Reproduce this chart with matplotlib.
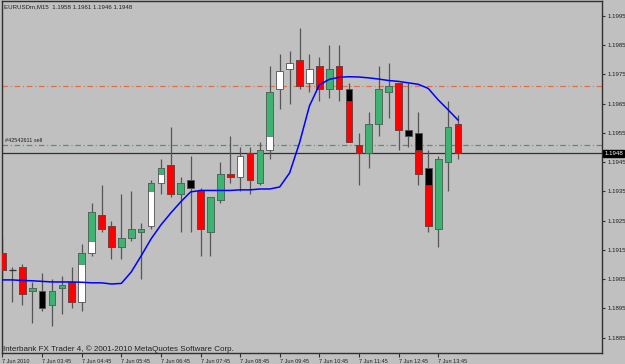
import numpy as np
import matplotlib.pyplot as plt
from matplotlib.transforms import blended_transform_factory

plt.rcParams['font.family'] = ['Liberation Sans', 'DejaVu Sans']

# EURUSDm M15 bars (4 digit quotes)
opens  = [1.1914, 1.1908, 1.1909, 1.1901, 1.1901, 1.1896, 1.1902, 1.1904, 1.1897, 1.1914,
          1.1927, 1.1923, 1.1916, 1.1919, 1.1921, 1.1923, 1.1938, 1.1944, 1.1934, 1.1939,
          1.1935, 1.1921, 1.1932, 1.1941, 1.1940, 1.1948, 1.1938, 1.1949, 1.1970, 1.1977,
          1.1980, 1.1972, 1.1978, 1.1970, 1.1978, 1.1970, 1.1951, 1.1948, 1.1958, 1.1969,
          1.1972, 1.1956, 1.1955, 1.1943, 1.1922, 1.1945, 1.1958]
highs  = [1.1919, 1.1909, 1.1910, 1.1904, 1.1907, 1.1905, 1.1906, 1.1909, 1.1917, 1.1931,
          1.1937, 1.1925, 1.1934, 1.1935, 1.1924, 1.1939, 1.1946, 1.1957, 1.1940, 1.1947,
          1.1936, 1.1933, 1.1945, 1.1954, 1.1950, 1.1950, 1.1952, 1.1978, 1.1982, 1.1983,
          1.1991, 1.1982, 1.1981, 1.1985, 1.1985, 1.1972, 1.1955, 1.1962, 1.1978, 1.1979,
          1.1972, 1.1972, 1.1962, 1.1949, 1.1947, 1.1966, 1.1961]
lows   = [1.1904, 1.1897, 1.1896, 1.1890, 1.1894, 1.1889, 1.1893, 1.1895, 1.1894, 1.1913,
          1.1921, 1.1912, 1.1912, 1.1918, 1.1905, 1.1922, 1.1934, 1.1933, 1.1921, 1.1921,
          1.1913, 1.1913, 1.1931, 1.1938, 1.1935, 1.1934, 1.1937, 1.1946, 1.1963, 1.1965,
          1.1970, 1.1969, 1.1966, 1.1967, 1.1966, 1.1952, 1.1937, 1.1943, 1.1954, 1.1960,
          1.1949, 1.1950, 1.1937, 1.1921, 1.1916, 1.1935, 1.1946]
closes = [1.1908, 1.1908, 1.1900, 1.1902, 1.1895, 1.1901, 1.1903, 1.1897, 1.1914, 1.1928,
          1.1922, 1.1916, 1.1919, 1.1922, 1.1922, 1.1938, 1.1943, 1.1934, 1.1938, 1.1936,
          1.1922, 1.1933, 1.1941, 1.1940, 1.1947, 1.1939, 1.1949, 1.1969, 1.1976, 1.1979,
          1.1971, 1.1977, 1.1970, 1.1977, 1.1970, 1.1952, 1.1948, 1.1958, 1.1970, 1.1971,
          1.1956, 1.1954, 1.1941, 1.1923, 1.1946, 1.1957, 1.1948]

# indicator colour painted over the body, from the close down/up to paint_end
# (None in paint_end = whole body)
paint = ['r', None, 'r', 'g', None, 'g', 'g', 'r', 'g', 'g',
         'r', 'r', 'g', 'g', 'g', 'g', 'g', 'r', 'g', None,
         'r', 'g', 'g', 'r', None, 'r', 'g', 'g', None, None,
         'r', None, 'r', 'g', 'r', 'r', 'r', 'g', 'g', 'g',
         'r', None, 'r', 'r', 'g', 'g', 'r']
paint_end = {8: 1.1910, 9: 1.1918, 15: 1.1935, 16: 1.1941, 27: 1.1954,
             35: 1.1966, 42: 1.1949, 43: 1.1937}

# moving average (blue line)
ma = [1.19047, 1.19047, 1.19045, 1.19044, 1.19042, 1.19040, 1.19040, 1.19040, 1.19039, 1.19037,
      1.19037, 1.19033, 1.19035, 1.19074, 1.19129, 1.19187, 1.19235, 1.19276, 1.19314, 1.19348,
      1.19353, 1.19353, 1.19353, 1.19353, 1.19355, 1.19355, 1.19358, 1.19358, 1.19365, 1.19413,
      1.19516, 1.19642, 1.19714, 1.19733, 1.19740, 1.19742, 1.19741, 1.19738, 1.19734, 1.19729,
      1.19726, 1.19721, 1.19716, 1.19702, 1.19663, 1.19629, 1.19594]

order_level = 1.1951   # sell order
alert_level = 1.1971
bid = 1.1948

yticks = [1.1885, 1.1895, 1.1905, 1.1915, 1.1925, 1.1935, 1.1945, 1.1955,
          1.1965, 1.1975, 1.1985, 1.1995]
xtick_pos = [0, 4, 8, 12, 16, 20, 24, 28, 32, 36, 40, 44]
xtick_labels = ['7 Jun 2010', '7 Jun 03:45', '7 Jun 04:45', '7 Jun 05:45', '7 Jun 06:45',
                '7 Jun 07:45', '7 Jun 08:45', '7 Jun 09:45', '7 Jun 10:45', '7 Jun 11:45',
                '7 Jun 12:45', '7 Jun 13:45']

colors = {'g': '#3cb371', 'r': '#ff0000'}
bg = '#c0c0c0'
dark = '#303030'

fig = plt.figure(figsize=(6.25, 3.64), dpi=100, facecolor=bg)
ax = fig.add_axes([2/625, 1 - 353/364, 600/625, 352/364], facecolor=bg)

x = np.arange(len(opens))
o = np.array(opens); c = np.array(closes)
w = 0.68

# horizontal levels
ax.axhline(alert_level, color='#e0704a', lw=0.9, dashes=(4.5, 2.2, 0.8, 2.2), zorder=1)
ax.axhline(order_level, color='#4c9a5a', lw=0.9, dashes=(4.5, 2.2, 0.8, 2.2), zorder=1)
ax.axhline(bid, color=dark, lw=0.9, zorder=1)

# wicks
ax.vlines(x, lows, highs, color='#555555', lw=0.9, zorder=2)

# base candles: white = up, black = down
for i in x:
    if o[i] == c[i]:
        ax.hlines(o[i], i - w/2, i + w/2, color=dark, lw=0.9, zorder=3)
        continue
    lo, hi = min(o[i], c[i]), max(o[i], c[i])
    base = 'white' if c[i] > o[i] else 'black'
    ax.bar(i, hi - lo, bottom=lo, width=w, color=base, edgecolor='#505050', lw=0.6, zorder=3)
    if paint[i]:
        end = paint_end.get(i, o[i])
        a, b = min(c[i], end), max(c[i], end)
        ax.bar(i, b - a, bottom=a, width=w, color=colors[paint[i]], edgecolor='#505050',
               lw=0.4, zorder=4)

ax.plot(x, ma, color='#0000ff', lw=1.1, zorder=5)

ax.set_xlim(-0.05, 60.55)
ax.set_ylim(1.18797, 1.20001)

ax.yaxis.tick_right()
ax.set_yticks(yticks)
ax.set_yticklabels(['%.4f' % v for v in yticks])
ax.tick_params(axis='y', length=2.5, width=0.8, color=dark, labelsize=4.4, pad=1.5,
               labelcolor='#202020')
ax.set_xticks(xtick_pos)
ax.set_xticklabels(xtick_labels)
ax.tick_params(axis='x', length=3, width=0.8, color=dark, labelsize=4.0, pad=1,
               labelcolor='#202020')
for lab in ax.get_xticklabels():
    lab.set_ha('left')

for s in ax.spines.values():
    s.set_color(dark)
    s.set_linewidth(1)

# texts
fig.text(4/625, 1 - 6.5/364, 'EURUSDm,M15  1.1958 1.1961 1.1946 1.1948',
         fontsize=4.4, va='center', ha='left', color='#202020')
tr = blended_transform_factory(ax.transAxes, ax.transData)
ax.text(0.005, order_level + 0.00006, '#42542611 sell', transform=tr, fontsize=4.0,
        va='bottom', ha='left', color='#202020')
ax.annotate('%.4f' % bid, xy=(1, bid), xycoords=('axes fraction', 'data'),
            xytext=(1.5, 0), textcoords='offset points', va='center', ha='left',
            fontsize=4.4, color='white',
            bbox=dict(boxstyle='square,pad=0.2', fc='black', ec='black'))
ax.text(0.002, 0.0105, 'Interbank FX Trader 4, \u00a9 2001-2010 MetaQuotes Software Corp.',
        transform=ax.transAxes, fontsize=5.8, va='center', ha='left', color='#202020')

fig.savefig('out.png', dpi=100, facecolor=bg)
